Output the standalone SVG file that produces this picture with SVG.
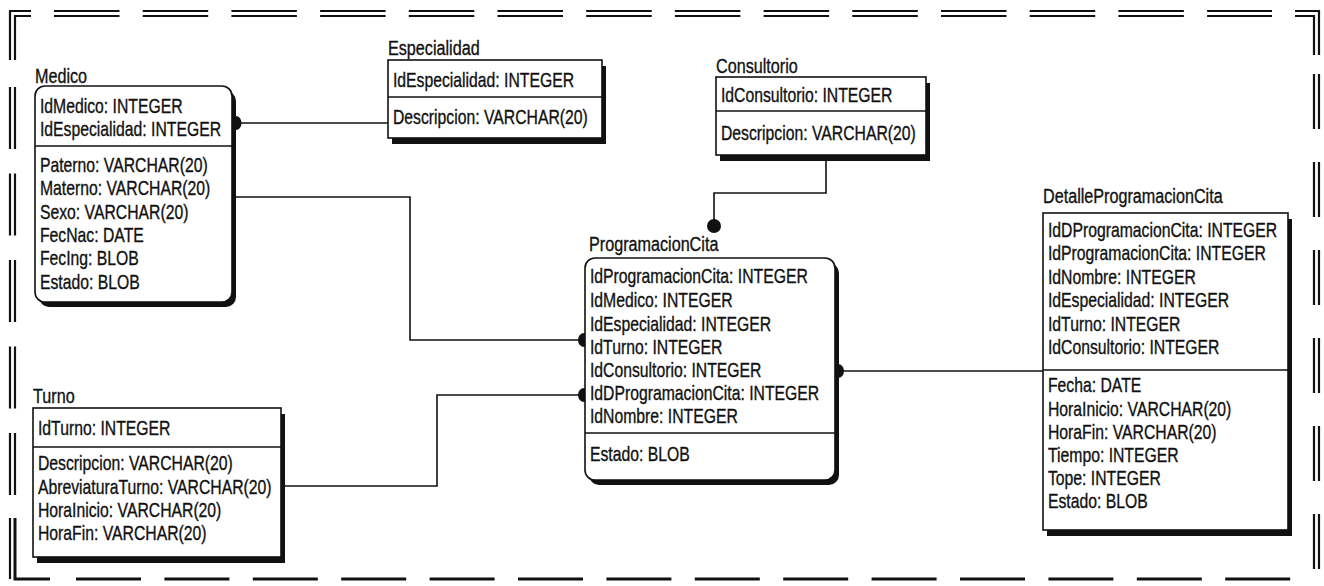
<svg xmlns="http://www.w3.org/2000/svg" width="1324" height="586" viewBox="0 0 1324 586">
<style>
.t{font-family:"Liberation Sans",Arial,sans-serif;font-size:21px;fill:#111;stroke:#111;stroke-width:0.35}
.box{fill:#fff;stroke:#111;stroke-width:1.6}
.sh{fill:#111}
.div{stroke:#111;stroke-width:1.4}
.c{fill:none;stroke:#111;stroke-width:1.6}
.dot{fill:#111}
.fr{fill:none;stroke:#111;stroke-width:2.2}
</style>
<g id="frame">
  <polyline class="fr" points="10,60 10,11 31,11"/>
  <polyline class="fr" points="15,60 15,16 31,16"/>
  <line class="fr" x1="54" y1="11" x2="1272" y2="11" stroke-dasharray="65.5 23.2"/>
  <line class="fr" x1="54" y1="16" x2="1272" y2="16" stroke-dasharray="65.5 23.2"/>
  <polyline class="fr" points="1295,11 1319,11 1319,55"/>
  <polyline class="fr" points="1295,16 1314,16 1314,55"/>
  <line class="fr" x1="10" y1="87" x2="10" y2="520" stroke-dasharray="62 24.5"/>
  <line class="fr" x1="15" y1="87" x2="15" y2="520" stroke-dasharray="62 24.5"/>
  <polyline class="fr" points="10,518 10,579"/>
  <polyline class="fr" points="15,518 15,579 50,579" style="stroke-width:3"/>
  <line class="fr" x1="76" y1="579" x2="1292" y2="579" stroke-dasharray="65 23.4" style="stroke-width:3"/>
  <line class="fr" x1="1314" y1="74" x2="1314" y2="580" stroke-dasharray="55 33"/>
  <line class="fr" x1="1319" y1="74" x2="1319" y2="580" stroke-dasharray="55 33"/>
</g>
<g id="connectors">
  <line class="c" x1="236" y1="123" x2="388" y2="123"/>
  <ellipse class="dot" cx="236" cy="123" rx="5.5" ry="7"/>
  <polyline class="c" points="234,197 410,197 410,340 584,340"/>
  <ellipse class="dot" cx="584" cy="340" rx="6" ry="7"/>
  <polyline class="c" points="282,486 437,486 437,395 584,395"/>
  <ellipse class="dot" cx="584" cy="395" rx="6" ry="7"/>
  <polyline class="c" points="826,157 826,193 714,193 714,226"/>
  <circle class="dot" cx="714" cy="226" r="7"/>
  <line class="c" x1="838" y1="371" x2="1043" y2="371"/>
  <ellipse class="dot" cx="838" cy="371" rx="6" ry="7"/>
</g>
<g id="medico">
  <rect class="sh" x="39" y="91" width="197" height="216" rx="10"/>
  <rect class="box" x="35" y="86" width="197" height="216" rx="10"/>
  <line class="div" x1="35" y1="146" x2="232" y2="146"/>
  <g transform="translate(35,0) scale(0.77,1)"><text class="t" x="0" y="83">Medico</text></g>
  <g transform="translate(40,0) scale(0.75,1)">
    <text class="t" x="0" y="113">IdMedico: INTEGER</text>
    <text class="t" x="0" y="136">IdEspecialidad: INTEGER</text>
    <text class="t" x="0" y="172">Paterno: VARCHAR(20)</text>
    <text class="t" x="0" y="195">Materno: VARCHAR(20)</text>
    <text class="t" x="0" y="219">Sexo: VARCHAR(20)</text>
    <text class="t" x="0" y="242">FecNac: DATE</text>
    <text class="t" x="0" y="265">FecIng: BLOB</text>
    <text class="t" x="0" y="289">Estado: BLOB</text>
  </g>
</g>
<g id="especialidad">
  <rect class="sh" x="392" y="66" width="214" height="78"/>
  <rect class="box" x="388" y="60" width="214" height="78"/>
  <line class="div" x1="388" y1="97" x2="602" y2="97"/>
  <g transform="translate(388,0) scale(0.77,1)"><text class="t" x="0" y="55">Especialidad</text></g>
  <g transform="translate(393,0) scale(0.75,1)">
    <text class="t" x="0" y="87">IdEspecialidad: INTEGER</text>
    <text class="t" x="0" y="124">Descripcion: VARCHAR(20)</text>
  </g>
</g>
<g id="consultorio">
  <rect class="sh" x="720" y="83" width="210" height="78"/>
  <rect class="box" x="716" y="77" width="210" height="78"/>
  <line class="div" x1="716" y1="111" x2="926" y2="111"/>
  <g transform="translate(716,0) scale(0.77,1)"><text class="t" x="0" y="73">Consultorio</text></g>
  <g transform="translate(721,0) scale(0.75,1)">
    <text class="t" x="0" y="102">IdConsultorio: INTEGER</text>
    <text class="t" x="0" y="140">Descripcion: VARCHAR(20)</text>
  </g>
</g>
<g id="programacioncita">
  <rect class="sh" x="589" y="263" width="250" height="222" rx="10"/>
  <rect class="box" x="585" y="258" width="250" height="222" rx="10"/>
  <line class="div" x1="585" y1="433" x2="835" y2="433"/>
  <g transform="translate(589,0) scale(0.77,1)"><text class="t" x="0" y="251">ProgramacionCita</text></g>
  <g transform="translate(590,0) scale(0.75,1)">
    <text class="t" x="0" y="283">IdProgramacionCita: INTEGER</text>
    <text class="t" x="0" y="307">IdMedico: INTEGER</text>
    <text class="t" x="0" y="331">IdEspecialidad: INTEGER</text>
    <text class="t" x="0" y="354">IdTurno: INTEGER</text>
    <text class="t" x="0" y="377">IdConsultorio: INTEGER</text>
    <text class="t" x="0" y="400">IdDProgramacionCita: INTEGER</text>
    <text class="t" x="0" y="423">IdNombre: INTEGER</text>
    <text class="t" x="0" y="461">Estado: BLOB</text>
  </g>
</g>
<g id="detalleprogramacioncita">
  <rect class="sh" x="1047" y="219" width="245" height="317"/>
  <rect class="box" x="1043" y="213" width="245" height="317"/>
  <line class="div" x1="1043" y1="370" x2="1288" y2="370"/>
  <g transform="translate(1043,0) scale(0.77,1)"><text class="t" x="0" y="203">DetalleProgramacionCita</text></g>
  <g transform="translate(1048,0) scale(0.75,1)">
    <text class="t" x="0" y="237">IdDProgramacionCita: INTEGER</text>
    <text class="t" x="0" y="260">IdProgramacionCita: INTEGER</text>
    <text class="t" x="0" y="284">IdNombre: INTEGER</text>
    <text class="t" x="0" y="307">IdEspecialidad: INTEGER</text>
    <text class="t" x="0" y="331">IdTurno: INTEGER</text>
    <text class="t" x="0" y="354">IdConsultorio: INTEGER</text>
    <text class="t" x="0" y="392">Fecha: DATE</text>
    <text class="t" x="0" y="416">HoraInicio: VARCHAR(20)</text>
    <text class="t" x="0" y="439">HoraFin: VARCHAR(20)</text>
    <text class="t" x="0" y="462">Tiempo: INTEGER</text>
    <text class="t" x="0" y="485">Tope: INTEGER</text>
    <text class="t" x="0" y="508">Estado: BLOB</text>
  </g>
</g>
<g id="turno">
  <rect class="sh" x="37" y="414" width="248" height="149"/>
  <rect class="box" x="33" y="408" width="248" height="149"/>
  <line class="div" x1="33" y1="447" x2="281" y2="447"/>
  <g transform="translate(33,0) scale(0.77,1)"><text class="t" x="0" y="403">Turno</text></g>
  <g transform="translate(38,0) scale(0.75,1)">
    <text class="t" x="0" y="435">IdTurno: INTEGER</text>
    <text class="t" x="0" y="470">Descripcion: VARCHAR(20)</text>
    <text class="t" x="0" y="494">AbreviaturaTurno: VARCHAR(20)</text>
    <text class="t" x="0" y="517">HoraInicio: VARCHAR(20)</text>
    <text class="t" x="0" y="540">HoraFin: VARCHAR(20)</text>
  </g>
</g>
</svg>
